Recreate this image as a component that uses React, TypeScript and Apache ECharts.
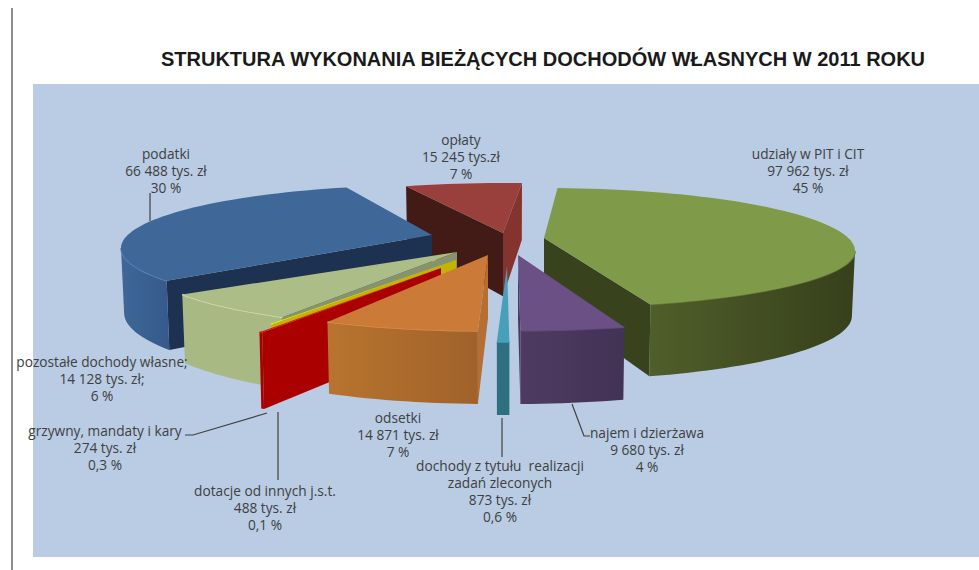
import React, { useEffect, useRef } from "react";
import * as echarts from "echarts";

const titleText = "STRUKTURA WYKONANIA BIEŻĄCYCH DOCHODÓW WŁASNYCH W 2011 ROKU";

// Data, clockwise from the top of the pie
const sliceNames = ["udziały w PIT i CIT", "najem i dzierżawa", "dochody z tytułu realizacji zadań zleconych", "odsetki", "dotacje od innych j.s.t.", "grzywny, mandaty i kary", "pozostałe dochody własne", "podatki", "opłaty"];
const sliceValues = [97962, 9680, 873, 14871, 488, 274, 14128, 66488, 15245];

const labelLines = [
  ["udziały w PIT i CIT", "97 962 tys. zł", "45 %"],
  ["najem i dzierżawa", "9 680 tys. zł", "4 %"],
  ["dochody z tytułu  realizacji", "zadań zleconych", "873 tys. zł", "0,6 %"],
  ["odsetki", "14 871 tys. zł", "7 %"],
  ["dotacje od innych j.s.t.", "488 tys. zł", "0,1 %"],
  ["grzywny, mandaty i kary", "274 tys. zł", "0,3 %"],
  ["pozostałe dochody własne;", "14 128 tys. zł;", "6 %"],
  ["podatki", "66 488 tys. zł", "30 %"],
  ["opłaty", "15 245 tys.zł", "7 %"],
];

// Layout of the exploded slices (apex on screen, small angle corrections)
const apexX = [544, 518, 507, 488, 441, 456, 457, 432, 503];
const apexY = [238, 255, 266, 255, 268, 260, 252, 235, 233];
const startShift = [0, 0, 0, 0, 4, 4.4, 2, -3.5, -1.2];
const endShift = [0, 0, 0, 0, 4, 4.4, 0, 1, 1];
const nearRadius = [57, 63, 63, 63, 63, 63, 63, 63, 63];
const extraDepth = [0, 0, 0, 0, 5, 0, 0, 0, 0];
const drawOrder = [8, 0, 7, 6, 5, 4, 3, 2, 1];

// Styles
const topColors = ["#7f9a48", "#6a5084", "#47a0b8", "#cb7a38", "#e01010", "#eeee00", "#adbd88", "#3f6899", "#993f3c"];
const startWallColors = ["#3a431c", "#443358", "#2e6f80", "#b56f35", "#aa0000", "#c4b400", "#87936c", "#1d3150", "#421a16"];
const endWallColors = ["#38421c", "#4b3a5e", "#2e6f80", "#b56f35", "#aa0000", "#c4b400", "#87936c", "#1d3150", "#85332f"];
const wallLeft = ["#505e2a", "#4f3b62", "#2e7080", "#b8742f", "#aa0000", "#c4b400", "#a8b983", "#3d6898", "#421a16"];
const wallRight = ["#36401b", "#423254", "#2e7080", "#a0622a", "#aa0000", "#c4b400", "#a9b985", "#36598a", "#421a16"];
const rimColors = ["#66773a", "#5a4672", "#47a0b8", "#d98f50", "#f01010", "#eeee00", "#d3dfae", "#5f88ba", "#993f3c"];

// Label layout: centre x, first line y
const labelX = [808, 647, 500, 398, 265, 105, 102, 166, 461];
const labelY = [153, 432, 465, 417, 490, 430, 361, 153, 139];
const labelStep = 17.3;

const leaderLines: number[][][] = [
  [[150, 193], [150, 221]],
  [[185, 435], [193, 435], [267, 413]],
  [[278, 412], [278, 480]],
  [[502, 418], [502, 457]],
  [[572, 404], [584, 436], [590, 436]],
];

// Projection of the tilted pie
const RX = 311;
const RY = 63;
const CY = 13;
const total = sliceValues.reduce((a, b) => a + b, 0);
const cumulative = sliceValues.reduce<number[]>((acc, v) => [...acc, acc[acc.length - 1] + (v / total) * 360], [0]);
const warpIn = [0, 160.3, 176.1, 177.5, 201.8, 203.05, 226.2, 335, 360];
const warpOut = [2.5, 160, 179.5, 181.8, 211, 212, 242, 343, 362.5];

function warp(a: number) {
  for (let i = 1; i < warpIn.length; i++) {
    if (a <= warpIn[i] + 1e-6) {
      const t = (a - warpIn[i - 1]) / (warpIn[i] - warpIn[i - 1]);
      return warpOut[i - 1] + t * (warpOut[i] - warpOut[i - 1]);
    }
  }
  return warpOut[warpOut.length - 1];
}

const depth = (vy: number) => 63.3 + 0.127 * vy;

function renderSlice(_params: any, api: any) {
  const i = api.value(0) as number;
  const ax = apexX[i];
  const ay = apexY[i];
  const start = warp(cumulative[i]) + startShift[i];
  const end = warp(cumulative[i + 1]) + endShift[i];
  const rimVec = (phiDeg: number) => {
    const p = (phiDeg * Math.PI) / 180;
    const c = Math.cos(p);
    return [RX * Math.sin(p), CY - (c < 0 ? nearRadius[i] : RY) * c];
  };
  const top = (v: number[]) => [ax + v[0], ay + v[1]];
  const bottom = (v: number[]) => [ax + v[0] * 0.99, ay + v[1] + depth(v[1]) + extraDepth[i]];
  const arc = (a: number, b: number) => {
    const out: number[][] = [];
    const n = Math.max(1, Math.ceil((b - a) / 2));
    for (let k = 0; k <= n; k++) out.push(rimVec(a + ((b - a) * k) / n));
    return out;
  };
  const children: any[] = [];
  const apexVec = [0, 0];
  const wall = (v: number[], fill: string) => ({
    type: "polygon",
    shape: { points: [top(apexVec), top(v), bottom(v), bottom(apexVec)] },
    style: { fill },
  });
  const sv = rimVec(start);
  const ev = rimVec(end);
  if (sv[0] < 0) children.push(wall(sv, startWallColors[i]));
  if (ev[0] > 0) children.push(wall(ev, endWallColors[i]));
  const wa = Math.max(start, 90);
  const wb = Math.min(end, 270);
  if (wb > wa) {
    const seg = arc(wa, wb);
    const pts = [...seg.map(top), ...seg.slice().reverse().map(bottom)];
    children.push({
      type: "polygon",
      shape: { points: pts },
      style: {
        fill: new echarts.graphic.LinearGradient(0, 0, 1, 0, [
          { offset: 0, color: wallLeft[i] },
          { offset: 1, color: wallRight[i] },
        ]),
      },
    });
    children.push({
      type: "polyline",
      shape: { points: seg.map(top) },
      style: { stroke: rimColors[i], lineWidth: 1.5, fill: "none" },
    });
  }
  children.push({
    type: "polygon",
    shape: { points: [[ax, ay], ...arc(start, end).map(top)] },
    style: { fill: topColors[i] },
  });
  return { type: "group", children };
}

const labelGraphics = labelLines.flatMap((lines, i) =>
  lines.map((t, k) => ({
    type: "text",
    z: 10,
    style: {
      text: t,
      x: labelX[i],
      y: labelY[i] + k * labelStep,
      align: "center",
      verticalAlign: "middle",
      fill: "#404040",
      font: '13.7px "Open Sans", sans-serif',
    },
  }))
);

const leaderGraphics = leaderLines.map((points) => ({
  type: "polyline",
  z: 9,
  shape: { points },
  style: { stroke: "#404040", lineWidth: 1.2, fill: "none" },
}));

export default function App() {
  const ref = useRef<HTMLDivElement>(null);
  useEffect(() => {
    if (!ref.current) return;
    const chart = echarts.init(ref.current, undefined, { renderer: "svg" });
    chart.setOption({
      animation: false,
      backgroundColor: "#ffffff",
      title: {
        text: titleText,
        left: 538,
        top: 44,
        textAlign: "center",
        textStyle: { fontFamily: '"Liberation Sans", sans-serif', fontWeight: "bold", fontSize: 20, color: "#1a1a1a" },
      },
      graphic: [
        { type: "rect", z: -10, shape: { x: 33, y: 84, width: 946, height: 473 }, style: { fill: "#b9cce4" } },
        { type: "line", z: -10, shape: { x1: 12, y1: 8, x2: 12, y2: 570 }, style: { stroke: "#8c8c8c", lineWidth: 2 } },
        ...leaderGraphics,
        ...labelGraphics,
      ],
      series: [
        {
          type: "custom",
          coordinateSystem: "none",
          renderItem: renderSlice,
          silent: true,
          data: drawOrder.map((i) => ({ name: sliceNames[i], value: [i, sliceValues[i]] })),
        },
      ],
    });
    return () => chart.dispose();
  }, []);
  return <div ref={ref} style={{ position: "absolute", left: 0, top: 0, width: 979, height: 570 }} />;
}
